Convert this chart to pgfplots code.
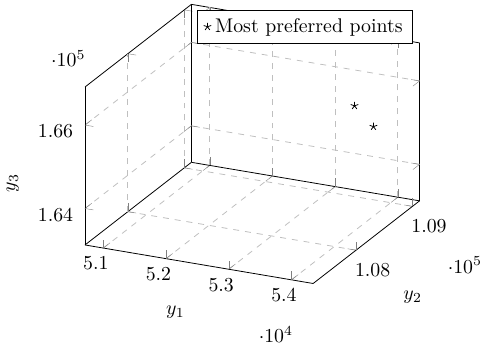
\documentclass[border=0pt]{standalone}
\usepackage{pgfplots}
\pgfplotsset{compat=1.18}
\begin{document}
\begin{tikzpicture}
\begin{axis}[
  scale only axis,
  width=169pt, height=141pt,
  view={25}{30},
  xmin=50708, xmax=54346,
  ymin=107240, ymax=109126,
  zmin=163126, zmax=166912,
  xtick={51000,52000,53000,54000},
  ytick={108000,109000},
  ztick={164000,166000},
  grid=major,
  major grid style={dashed, black!25},
  z tick label style={xshift=-2.5pt},
  xlabel={$y_1$}, ylabel={$y_2$}, zlabel={$y_3$},
  zlabel style={yshift=2pt},
]
\addplot3[only marks, mark=star, black] coordinates {
  (53422,109000,165303)
  (53724,109000,164881)
};
\addlegendentry{Most preferred points}
\end{axis}
\path (current bounding box.north) ++(0,2pt);
\end{tikzpicture}
\end{document}
